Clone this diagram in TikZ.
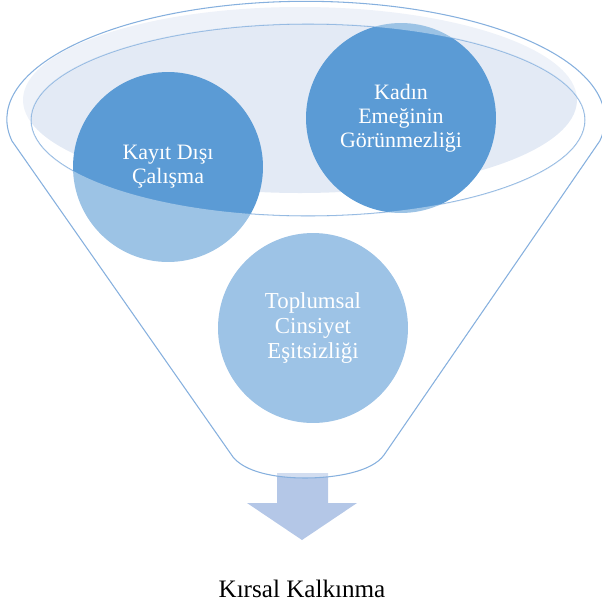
\documentclass[tikz,border=0pt]{standalone}
\usepackage{fontspec}
\setmainfont{Liberation Serif}
\usepackage{xcolor}
\usepackage{tikz}

\definecolor{darkbubble}{RGB}{91,155,213}
\definecolor{lightbubble}{RGB}{157,195,230}
\definecolor{rimshade}{RGB}{227,234,245}
\definecolor{rimline}{RGB}{134,176,222}
\definecolor{arrowblue}{RGB}{180,199,231}

\newcommand{\funnelshape}{(233,-457) -- (12,-141)
  arc[start angle=190.6, end angle=-10.6, x radius=299, y radius=118]
  -- (384,-455) .. controls (372,-472) and (335,-478) .. (305,-478)
  .. controls (275,-478) and (245,-472) .. (233,-457) -- cycle}

\begin{document}
\begin{tikzpicture}[x=0.02cm, y=0.02cm,
  bubble/.style={circle, minimum size=3.8cm, inner sep=0pt, align=center, text=white},
  smalltext/.style={font=\fontsize{12.5}{13.6}\selectfont},
  bigtext/.style={font=\fontsize{13}{14.2}\selectfont},
  rim/.style={draw=rimline, line width=0.6pt}]
	\useasboundingbox (0,0) rectangle (602,-609);
	\fill[rimshade] (300,-100) ellipse[x radius=277, y radius=93];
	\draw[rim] (308,-120) ellipse[x radius=277, y radius=96];
	
	\fill[arrowblue] (277,-473) -- (328,-473) -- (328,-503) -- (357,-503)
		-- (302,-540) -- (247,-503) -- (277,-503) -- cycle;
	
	\node[bubble, smalltext, fill=darkbubble] (kayit) at (168,-167) {Kayıt Dışı\\Çalışma};
	\node[bubble, smalltext, fill=darkbubble] (kadin) at (401,-118) {Kadın\\Emeğinin\\Görünmezliği};
	
	\fill[white, fill opacity=0.4, even odd rule] \funnelshape
		(308,-120) ellipse[x radius=277, y radius=96];
	\draw[rim] \funnelshape;
	
	\node[bubble, bigtext, fill=lightbubble] (toplumsal) at (313,-328) {Toplumsal\\Cinsiyet\\Eşitsizliği};
	\node[anchor=base, font=\fontsize{14.3}{17}\selectfont] (kirsal) at (302,-597) {Kırsal Kalkınma};
\end{tikzpicture}
\end{document}
